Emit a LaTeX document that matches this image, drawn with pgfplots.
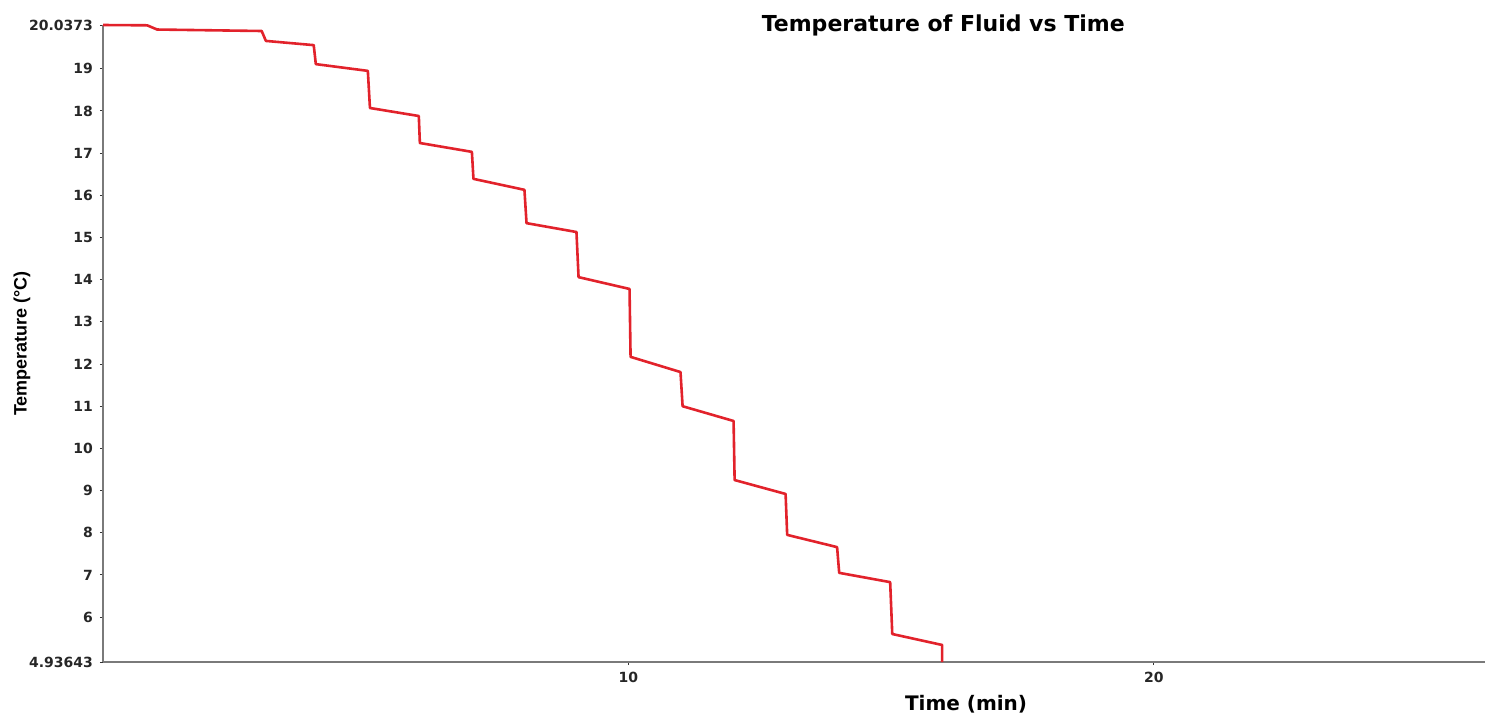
\documentclass[border=0pt]{standalone}
\usepackage{pgfplots}
\pgfplotsset{compat=1.18}
\usepackage{fontspec}
\setmainfont{Liberation Sans}
\newfontfamily\dejavu{DejaVu Sans}
\definecolor{curvered}{HTML}{E2222B}
\definecolor{axgray}{HTML}{7A7A7A}
\begin{document}
\begin{tikzpicture}
\useasboundingbox (-51.5pt,-28.5pt) rectangle (695.5pt,331pt);
\begin{axis}[
  scale only axis,
  width=691pt, height=318.5pt,
  at={(0,0)}, anchor=south west,
  xmin=0, xmax=26.3,
  ymin=4.93643, ymax=20.0373,
  axis x line=bottom, axis y line=left,
  axis line style={-, draw=axgray, line width=1pt},
  xtick={10,20}, xticklabels={10,20},
  ytick={4.93643,6,7,8,9,10,11,12,13,14,15,16,17,18,19,20.0373},
  yticklabels={4.93643,6,7,8,9,10,11,12,13,14,15,16,17,18,19,20.0373},
  tick align=outside,
  major tick length=1.5pt,
  tick style={black!80, line width=0.5pt},
  ticklabel style={font=\dejavu\fontsize{7}{8.5}\selectfont\bfseries, text=black!85},
  yticklabel style={xshift=0pt},
  every axis y label/.style={at={(axis description cs:-0.0586,0.50)}, rotate=90, anchor=center, font=\fontsize{9}{10.5}\selectfont\bfseries},
  every axis x label/.style={at={(axis description cs:0.6245,-0.066)}, anchor=center, font=\dejavu\fontsize{10}{12}\selectfont\bfseries},
  xlabel={Time (min)},
  ylabel={Temperature (\textdegree C)},
  clip=false,
]
\addplot[curvered, line width=1.3pt, line join=round] coordinates {
(0,20.037) (0.84,20.03) (1.03,19.93) (3.02,19.895)
(3.10,19.66) (4.01,19.56)
(4.05,19.11) (5.04,18.95)
(5.08,18.07) (6.01,17.88)
(6.03,17.24) (7.02,17.03)
(7.05,16.39) (8.02,16.13)
(8.06,15.34) (9.01,15.13)
(9.05,14.06) (10.02,13.78)
(10.04,12.17) (10.99,11.81)
(11.03,11.00) (12.00,10.65)
(12.02,9.25) (12.99,8.92)
(13.02,7.95) (13.97,7.66)
(14.01,7.05) (14.98,6.83)
(15.02,5.60) (15.97,5.34)
(15.97,4.93643)
};
\node[font=\dejavu\fontsize{11}{13}\selectfont\bfseries, anchor=base, yshift=-3.5pt] at (rel axis cs:0.608,1) {Temperature of Fluid vs Time};
\end{axis}
\end{tikzpicture}
\end{document}
